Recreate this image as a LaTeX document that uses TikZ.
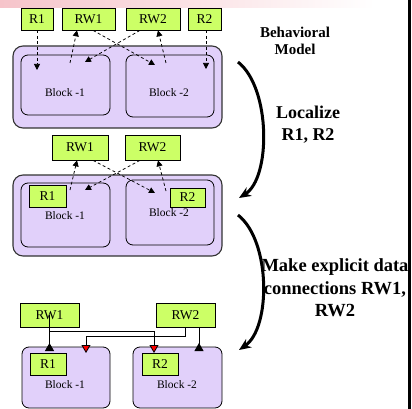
\documentclass[tikz,border=0pt]{standalone}
\usepackage{fontspec}
\setmainfont{Liberation Serif}
\usetikzlibrary{arrows.meta,calc}
\definecolor{lav}{RGB}{225,208,250}
\definecolor{lime}{RGB}{204,255,102}
\definecolor{pinkband}{RGB}{246,196,202}
\begin{document}
\begin{tikzpicture}[x=1pt,y=-1pt,
  gbox/.style={draw=black, line width=0.7pt, fill=lime, inner sep=0pt, font=\fontsize{13.5}{14}\selectfont},
  outerbox/.style={draw=black!80, line width=1.1pt, fill=lav, rounded corners=10pt, inner sep=0pt},
  blk/.style={draw=black, line width=0.8pt, fill=lav, rounded corners=7pt, inner sep=0pt},
  blabel/.style={font=\fontsize{11.5}{12}\selectfont, inner sep=0pt},
  darr/.style={line width=0.75pt, dash pattern=on 3pt off 2.5pt, -{Triangle[length=6pt,width=6pt]}},
  wire/.style={line width=0.8pt},
  redtip/.style={-{Triangle[length=8pt,width=9pt,fill=red]}},
  blacktip/.style={{Triangle[reversed,length=8pt,width=9pt]}-},
  curv/.style={line width=3pt, -{Stealth[length=12pt,width=10pt]}},
  side/.style={font=\bfseries\fontsize{18}{22}\selectfont, align=center, inner sep=0pt}
]
\useasboundingbox (0,0) rectangle (412,409);
\shade[left color=pinkband, right color=white] (0,0) rectangle (375,8);

% ---------- top section ----------
\node[outerbox, minimum width=209pt, minimum height=82pt] (O1) at (117.5,87) {};
\node[blk, minimum width=89pt, minimum height=60pt] (B1a) at (65.5,85) {};
\node[blk, minimum width=88pt, minimum height=62pt] (B2a) at (170,86) {};
\node[blabel] (L1a) at (65,93) {Block -1};
\node[blabel] (L2a) at (169,93) {Block -2};
\node[gbox, minimum width=32pt, minimum height=22pt] (R1a) at (37,19) {R1};
\node[gbox, minimum width=53pt, minimum height=22pt] (RW1a) at (88.5,19) {RW1};
\node[gbox, minimum width=54pt, minimum height=22pt] (RW2a) at (153,19) {RW2};
\node[gbox, minimum width=33pt, minimum height=22pt] (R2a) at (204.5,19) {R2};
\coordinate (a1) at (37,70);
\coordinate (a2) at (70,63);
\coordinate (a3) at (85,62);
\coordinate (a4) at (155,65);
\coordinate (a5) at (166,63);
\coordinate (a6) at (206,69);
\draw[darr] (R1a.south) -- (a1);
\draw[darr] (a2) -- ([xshift=-11.5pt]RW1a.south);
\draw[darr] ([xshift=-13pt]RW2a.south) -- (a3);
\draw[darr] ([xshift=4.5pt]RW1a.south) -- (a4);
\draw[darr] (a5) -- ([xshift=5pt]RW2a.south);
\draw[darr] ([xshift=1.5pt]R2a.south) -- (a6);

% ---------- middle section ----------
\node[outerbox, minimum width=209pt, minimum height=81pt] (O2) at (117.5,215.5) {};
\node[blk, minimum width=89pt, minimum height=64pt] (B1b) at (65.5,215) {};
\node[blk, minimum width=88pt, minimum height=65pt] (B2b) at (170,212.5) {};
\node[gbox, minimum width=37pt, minimum height=22pt] (R1b) at (47.5,196) {R1};
\node[gbox, minimum width=35pt, minimum height=19pt] (R2b) at (187.5,197.5) {R2};
\node[blabel] (L1b) at (65,216) {Block -1};
\node[blabel] (L2b) at (169,213) {Block -2};
\node[gbox, minimum width=56pt, minimum height=25pt] (RW1b) at (80,147.5) {RW1};
\node[gbox, minimum width=55pt, minimum height=25pt] (RW2b) at (152.5,147.5) {RW2};
\coordinate (b2) at (70,190);
\coordinate (b3) at (85,190);
\coordinate (b4) at (155,193);
\coordinate (b5) at (166,191);
\draw[darr] (b2) -- ([xshift=-3pt]RW1b.south);
\draw[darr] ([xshift=-12.5pt]RW2b.south) -- (b3);
\draw[darr] ([xshift=13pt]RW1b.south) -- (b4);
\draw[darr] (b5) -- ([xshift=5.5pt]RW2b.south);

% ---------- bottom section ----------
\node[blk, minimum width=88pt, minimum height=61pt] (B1c) at (66,377.5) {};
\node[blk, minimum width=89pt, minimum height=61pt] (B2c) at (177.5,377.5) {};
\node[gbox, minimum width=36pt, minimum height=22pt] (R1c) at (48,364) {R1};
\node[gbox, minimum width=36pt, minimum height=22pt] (R2c) at (160,364) {R2};
\node[blabel] (L1c) at (65,385) {Block -1};
\node[blabel] (L2c) at (177,385) {Block -2};
\node[gbox, minimum width=59pt, minimum height=24pt] (RW1c) at (49.5,315) {RW1};
\node[gbox, minimum width=59pt, minimum height=24pt] (RW2c) at (185.5,315) {RW2};
\coordinate (t1) at (49.5,351);
\coordinate (j1) at (49.5,331);
\coordinate (r1) at (154,353);
\coordinate (k1) at (86,336);
\coordinate (r2) at (86,353);
\coordinate (t2) at (199,351);
\draw[wire,blacktip] (t1) -- (RW1c.center);
\draw[wire,redtip] (j1) -| (r1);
\draw[wire,redtip] (RW2c.south) |- (k1) -- (r2);
\draw[wire,blacktip] (t2) -- (t2 |- RW2c.south);

% ---------- right side ----------
\node[side, font=\bfseries\fontsize{15}{17}\selectfont] (beh) at (295,41) {Behavioral\\Model};
\coordinate (c1s) at (238,62);
\coordinate (c1e) at (239,198);
\draw[curv] (c1s) .. controls (271,88) and (271,178) .. (c1e);
\node[side] (loc) at (308,125) {Localize\\R1, R2};
\coordinate (c2s) at (238,215);
\coordinate (c2e) at (239,350);
\draw[curv] (c2s) .. controls (271,241) and (271,328) .. (c2e);
\node[side, font=\bfseries\fontsize{18.5}{22.5}\selectfont] (mk) at (335,288) {Make explicit data\\connections RW1,\\RW2};

\fill[white] (411,0) rectangle (416,409);
\fill[black] (408,0) rectangle (411,409);
\end{tikzpicture}
\end{document}
